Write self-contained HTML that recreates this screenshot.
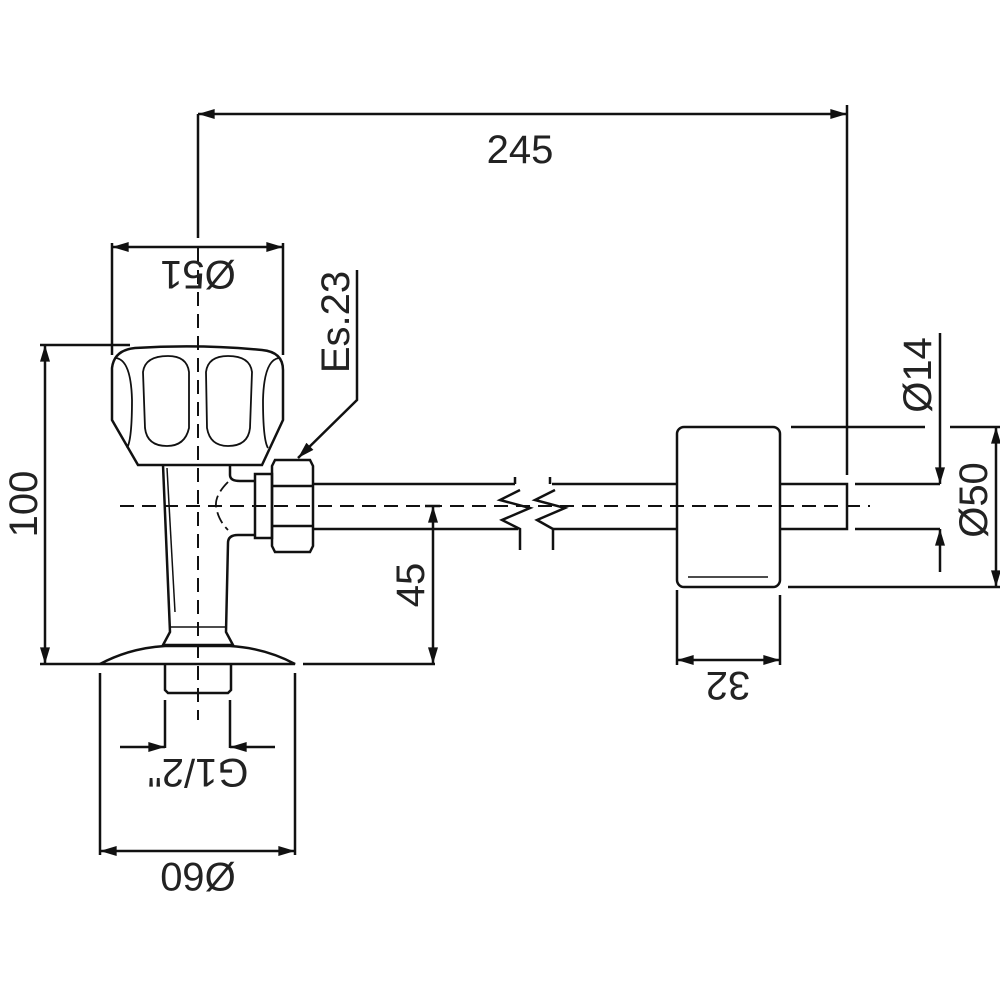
<!DOCTYPE html>
<html><head><style>body{margin:0;background:#fff}svg{display:block}text{font-family:"Liberation Sans",sans-serif;font-size:40px;fill:#222}</style></head>
<body>
<svg width="1000" height="1000" viewBox="0 0 1000 1000" xmlns="http://www.w3.org/2000/svg">
<defs>
<marker id="a" viewBox="0 0 10 6" refX="10" refY="3" markerWidth="22" markerHeight="10" markerUnits="userSpaceOnUse" orient="auto-start-reverse"><path d="M0,0L10,3L0,6z" fill="#111"/></marker>
</defs>
<g stroke="#111" stroke-width="2.5" fill="none">
<line x1="198" y1="114" x2="198" y2="238"/>
<line x1="847" y1="105" x2="847" y2="475"/>
<line x1="198" y1="114" x2="847" y2="114" marker-start="url(#a)" marker-end="url(#a)"/>
<line x1="112" y1="243" x2="112" y2="355"/>
<line x1="283" y1="243" x2="283" y2="355"/>
<line x1="112" y1="247" x2="283" y2="247" marker-start="url(#a)" marker-end="url(#a)"/>
<line x1="40" y1="345" x2="130" y2="345"/>
<line x1="40" y1="664" x2="100" y2="664"/>
<line x1="45" y1="345" x2="45" y2="664" marker-start="url(#a)" marker-end="url(#a)"/>
<path d="M112,368 Q114,350 135,348 Q200,344 262,350 Q283,352 283,370 L283,420 L262,465 L138,465 L112,420 Z"/>
<g stroke-width="1.8">
<path d="M116,358 Q131,360 132,400 Q132,440 127,448"/>
<path d="M279,358 Q264,360 263,400 Q263,440 268,448"/>
<path d="M143,372 Q145,356 168,356 Q187,356 189,372 L189,428 Q185,446 167,446 Q147,446 145,428 Z"/>
<path d="M206,372 Q208,356 228,356 Q250,356 252,372 L250,428 Q248,446 228,446 Q210,446 207,428 Z"/>
</g>
<path d="M163,465 L170,632 L163,645 L233,645 L226,632 L228,543 Q228,535 238,535 L255,535"/>
<path d="M230,465 L230,475 Q230,481 240,481 L255,481"/>
<line x1="167" y1="468" x2="175" y2="612" stroke-width="1.5"/>
<line x1="170" y1="627" x2="226" y2="627" stroke-width="1.5"/>
<path d="M228,482 Q215,495 216,506 Q218,520 228,530" stroke-dasharray="12 5" stroke-width="1.8"/>
<path d="M100,664 Q130,648 165,646 L230,646 Q265,648 295,664 Z"/>
<line x1="303" y1="664" x2="435" y2="664"/>
<path d="M165,664 L165,690 L168,693 L228,693 L231,690 L231,664"/>
<rect x="255" y="474" width="17" height="64"/>
<path d="M275,460 L310,460 L313,466 L313,546 L310,552 L275,552 L272,546 L272,466 Z"/>
<line x1="272" y1="486" x2="313" y2="486"/><line x1="272" y1="526" x2="313" y2="526"/>
<line x1="313" y1="484" x2="515" y2="484"/><line x1="313" y1="529" x2="518" y2="529"/>
<line x1="552" y1="484" x2="677" y2="484"/><line x1="552" y1="529" x2="677" y2="529"/>
<path d="M515,477 L515,484 M520,490 L500,500 L530,508 L502,520 L520,529 L520,550"/>
<path d="M550,477 L550,484 M555,490 L535,500 L565,508 L537,520 L553,529 L553,550"/>
<line x1="120" y1="506" x2="870" y2="506" stroke-dasharray="14 8" stroke-width="2"/>
<line x1="198" y1="248" x2="198" y2="720" stroke-dasharray="14 8" stroke-width="2"/>
<line x1="425" y1="506" x2="440" y2="506"/>
<line x1="433" y1="506" x2="433" y2="664" marker-start="url(#a)" marker-end="url(#a)"/>
<polyline points="357,270 357,400 298,458" marker-end="url(#a)"/>
<rect x="677" y="427" width="103" height="160" rx="7"/>
<line x1="688" y1="577" x2="768" y2="577" stroke-width="1.5"/>
<path d="M780,484 L847,484 L847,529 L780,529"/>
<line x1="791" y1="427" x2="925" y2="427"/><line x1="950" y1="427" x2="1000" y2="427"/>
<line x1="788" y1="587" x2="1000" y2="587"/>
<line x1="855" y1="484" x2="940" y2="484"/><line x1="855" y1="529" x2="940" y2="529"/>
<line x1="940" y1="333" x2="940" y2="484" marker-end="url(#a)"/>
<line x1="940" y1="572" x2="940" y2="529" marker-end="url(#a)"/>
<line x1="996" y1="427" x2="996" y2="587" marker-start="url(#a)" marker-end="url(#a)"/>
<line x1="677" y1="590" x2="677" y2="665"/><line x1="780" y1="595" x2="780" y2="665"/>
<line x1="677" y1="660" x2="780" y2="660" marker-start="url(#a)" marker-end="url(#a)"/>
<line x1="165" y1="700" x2="165" y2="748"/><line x1="230" y1="700" x2="230" y2="748"/>
<line x1="120" y1="747" x2="165" y2="747" marker-end="url(#a)"/>
<line x1="275" y1="747" x2="230" y2="747" marker-end="url(#a)"/>
<line x1="100" y1="673" x2="100" y2="855"/><line x1="295" y1="673" x2="295" y2="855"/>
<line x1="100" y1="851" x2="295" y2="851" marker-start="url(#a)" marker-end="url(#a)"/>
</g>
<text x="520" y="163" text-anchor="middle">245</text>
<text transform="translate(198,261) rotate(180)" text-anchor="middle">Ø51</text>
<text transform="translate(37,504) rotate(-90)" text-anchor="middle">100</text>
<text transform="translate(424,585) rotate(-90)" text-anchor="middle">45</text>
<text transform="translate(349,322) rotate(-90)" text-anchor="middle">Es.23</text>
<text transform="translate(931,375) rotate(-90)" text-anchor="middle">Ø14</text>
<text transform="translate(987,500) rotate(-90)" text-anchor="middle">Ø50</text>
<text transform="translate(728,672) rotate(180)" text-anchor="middle">32</text>
<text transform="translate(198,759) rotate(180)" text-anchor="middle">G1/2"</text>
<text transform="translate(198,863) rotate(180)" text-anchor="middle">Ø60</text>
</svg>
</body></html>
